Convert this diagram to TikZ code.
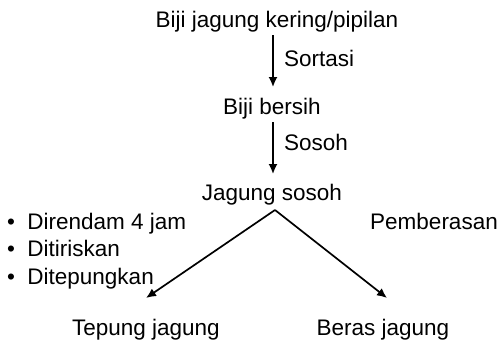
\documentclass[tikz,border=0pt]{standalone}
\usepackage{fontspec}
\setmainfont{Liberation Sans}
\usetikzlibrary{arrows.meta}
\newcommand{\stepmark}{\textbullet\hspace{0.55em}}
\begin{document}
\begin{tikzpicture}[x=1pt,y=-1pt,
  lbl/.style={anchor=base,inner sep=0pt,font=\fontsize{22.5}{27}\selectfont},
  flow/.style={line width=1.7pt,-{Latex[length=10pt,width=9pt]}}]
\useasboundingbox (0,0) rectangle (499,343);
% process stages
\node[lbl] (raw) at (277,27) {Biji jagung kering/pipilan};
\node[lbl] (clean) at (272,114) {Biji bersih};
\node[lbl] (hulled) at (272,200) {Jagung sosoh};
\node[lbl] (flour) at (146,335) {Tepung jagung};
\node[lbl] (rice) at (383,335) {Beras jagung};
% step labels
\node[lbl,anchor=base west] (sort) at (284,66) {Sortasi};
\node[lbl,anchor=base west] (hull) at (284,150) {Sosoh};
\node[lbl,anchor=base east] (grain) at (498,229) {Pemberasan};
\node[lbl,anchor=base west] (s1) at (7,229) {\stepmark Direndam 4 jam};
\node[lbl,anchor=base west] (s2) at (7,256.5) {\stepmark Ditiriskan};
\node[lbl,anchor=base west] (s3) at (7,284) {\stepmark Ditepungkan};
% arrow end points
\coordinate (rawout) at (273,35);
\coordinate (cleanin) at (273,87);
\coordinate (cleanout) at (273,122);
\coordinate (hulledin) at (273,174);
\coordinate (split) at (275,210);
\coordinate (flourin) at (146,298);
\coordinate (ricein) at (387,298);
% connectors
\draw[flow] (rawout) -- (cleanin);
\draw[flow] (cleanout) -- (hulledin);
\draw[flow] (split) -- (flourin);
\draw[flow] (split) -- (ricein);
\end{tikzpicture}
\end{document}
